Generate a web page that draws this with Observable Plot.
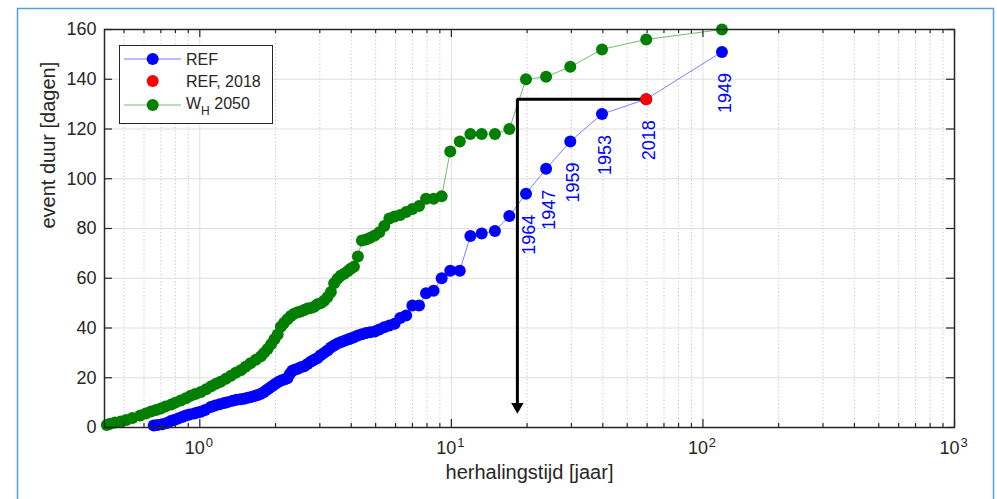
<!DOCTYPE html>
<html>
<head>
<meta charset="utf-8">
<script src="https://cdn.jsdelivr.net/npm/d3@7"></script>
<script src="https://cdn.jsdelivr.net/npm/@observablehq/plot@0.6"></script>
<style>
  html, body { margin: 0; padding: 0; background: #fff; overflow: hidden; }
  svg { display: block; }
</style>
</head>
<body>
<div id="chart"></div>
<script>
// Event duration (days) against return period (years), ranked from the longest event down.
// REF: reference climate; the first six events carry their year.
const refReturn = [119, 59.5, 39.7, 29.7, 23.8, 19.8, 17.0, 14.9, 13.2, 11.9, 10.8, 9.9, 9.15, 8.5, 7.93,
  7.44, 7.0, 6.61, 6.26, 5.95, 5.67, 5.41, 5.17, 4.96, 4.76, 4.58, 4.41, 4.25, 4.10, 3.98, 3.90, 3.78,
  3.65, 3.53, 3.42, 3.32, 3.22, 3.12, 3.02, 2.93, 2.85, 2.77, 2.68, 2.60, 2.52, 2.45, 2.38, 2.33, 2.28,
  2.23, 2.18, 2.12, 2.06, 2.0, 1.95, 1.90, 1.85, 1.80, 1.75, 1.70, 1.65, 1.60, 1.55, 1.50, 1.45, 1.40,
  1.35, 1.29, 1.25, 1.20, 1.15, 1.105, 1.05, 1.01, 0.98, 0.95, 0.91, 0.88, 0.85, 0.82, 0.79, 0.767,
  0.74, 0.71, 0.68, 0.656];
const refDuration = [151, 132, 126, 115, 104, 94, 85, 79, 78, 77, 63, 63, 60, 55, 54,
  49, 49, 45, 44, 41.7, 41, 40.3, 39.4, 38.6, 38.3, 38, 37.5, 37, 36.3, 35.8, 35.5, 35,
  34.4, 33.8, 33, 32.2, 31, 30, 29, 27.8, 27.2, 26.5, 25.5, 24.6, 24.2, 23.6, 23.2, 22.8, 21.5,
  19.8, 19.4, 19, 18.4, 17.6, 16.8, 16, 15.2, 14.3, 13.6, 13.1, 12.7, 12.3, 12, 11.6, 11.4, 11.2,
  10.8, 10.2, 9.8, 9.3, 8.8, 8.2, 7.0, 6.3, 6.0, 5.6, 5.2, 4.8, 4.2, 3.6, 3.0, 2.6,
  1.8, 1.3, 1.0, 0.8];
const refYears = ["1949", "2018", "1953", "1959", "1947", "1964"];
const highlightYear = "2018";

// W_H 2050 scenario
const whReturn = [119, 59.5, 39.7, 29.7, 23.8, 19.8, 17.0, 14.9, 13.2, 11.9, 10.8, 9.9, 9.15, 8.5, 7.93,
  7.44, 7.0, 6.61, 6.26, 5.95, 5.67, 5.41, 5.17, 4.96, 4.76, 4.58, 4.41, 4.25, 4.10, 3.98, 3.87, 3.75,
  3.63, 3.53, 3.42, 3.32, 3.22, 3.12, 3.03, 2.93, 2.85, 2.76, 2.68, 2.60, 2.52, 2.45, 2.37, 2.30, 2.23,
  2.16, 2.10, 2.04, 1.98, 1.92, 1.86, 1.80, 1.75, 1.67, 1.59, 1.52, 1.455, 1.39, 1.33, 1.27, 1.21,
  1.16, 1.11, 1.06, 1.01, 0.96, 0.92, 0.88, 0.84, 0.80, 0.77, 0.73, 0.70, 0.67, 0.64, 0.61, 0.58,
  0.54, 0.51, 0.485, 0.46, 0.44, 0.427];
const whDuration = [160, 156, 152, 145, 141, 140, 120, 118, 118, 118, 115, 111, 93, 92, 92,
  89, 87.8, 86.6, 85.4, 84.8, 84, 81, 78.5, 77.2, 76.3, 75.6, 75.2, 68.7, 64.6, 63.8, 62.8, 61.8,
  61, 59.8, 58, 54.5, 52.5, 51, 50, 49.5, 48.5, 48, 47.8, 47.2, 46.6, 46.3, 45.7, 44.8, 43.5,
  42, 40.5, 37.4, 35.5, 33.5, 31.6, 30, 28.6, 27.2, 25.8, 24.4, 23, 22, 20.8, 19.6, 18.4,
  17.6, 16.6, 15.4, 14.3, 13.5, 12.8, 11.8, 10.9, 10, 9.2, 8.4, 7.6, 7, 6.4, 5.6, 4.8,
  3.8, 3, 2.4, 2, 1.5, 1];

// Return period at which the 2050 scenario reaches the 2018 duration, and the arrow's foot
const arrowReturn = 18.3;
const arrowFoot = 8.4;

// Axis ticks
const yTicks = [0, 20, 40, 60, 80, 100, 120, 140, 160];
const decades = [1, 10, 100, 1000];
const decadeExponents = ["0", "1", "2", "3"];
const minorTicks = [0.5, 0.6, 0.7, 0.8, 0.9, 2, 3, 4, 5, 6, 7, 8, 9, 20, 30, 40, 50, 60, 70, 80, 90,
  200, 300, 400, 500, 600, 700, 800, 900];
const xDomain = [0.418, 1000];
const yDomain = [0, 160];

const xLabel = "herhalingstijd [jaar]";
const yLabel = "event duur [dagen]";
const legendLabels = ["REF", "REF, 2018", "W", "H", " 2050"];

// Tables for the marks
const refData = refReturn.map((t, i) => ({t, d: refDuration[i], year: refYears[i]}));
const whData = whReturn.map((t, i) => ({t, d: whDuration[i]}));
const labelled = refData.filter(r => r.year);
const highlight = refData.filter(r => r.year === highlightYear);

const W = 997, H = 499;
const mL = 104, mR = 43, mT = 29, mB = 72;
const innerW = W - mL - mR, innerH = H - mT - mB;
const font = "'Liberation Sans', Arial, Helvetica, sans-serif";
const ink = "#262626";
const blue = "#0000ff", green = "#007f00", red = "#ff0000";
const dotR = 6;

const plot = Plot.plot({
  width: W,
  height: H,
  marginLeft: mL,
  marginRight: mR,
  marginTop: mT,
  marginBottom: mB,
  style: {fontFamily: font, fontSize: "18px", color: ink, background: "transparent", overflow: "visible"},
  x: {type: "log", domain: xDomain, axis: null},
  y: {domain: yDomain, ticks: yTicks, tickSize: 0, tickPadding: 8, label: null},
  marks: [
    // grid
    Plot.ruleX(minorTicks, {x: d => d, stroke: "#c4c4c4", strokeDasharray: "1.2,2.3", strokeWidth: 1}),
    Plot.ruleX(decades, {x: d => d, stroke: "#dedede", strokeWidth: 1}),
    Plot.ruleY(yTicks, {y: d => d, stroke: "#dedede", strokeWidth: 1}),
    // series
    Plot.line(whData, {x: "t", y: "d", stroke: green, strokeOpacity: 0.55, strokeWidth: 1}),
    Plot.dot(whData, {x: "t", y: "d", r: dotR, fill: green}),
    Plot.line(refData, {x: "t", y: "d", stroke: blue, strokeOpacity: 0.5, strokeWidth: 1}),
    Plot.dot(refData, {x: "t", y: "d", r: dotR, fill: blue}),
    // 2018 duration carried across to the 2050 return period
    Plot.ruleY(highlight, {y: "d", x1: () => arrowReturn, x2: "t", stroke: "#000", strokeWidth: 3}),
    Plot.ruleX(highlight, {x: () => arrowReturn, y1: "d", y2: () => arrowFoot, stroke: "#000", strokeWidth: 3}),
    Plot.dot(highlight, {x: () => arrowReturn, y: () => arrowFoot, symbol: "triangle", r: 4.6, fill: "#000", rotate: 180}),
    Plot.dot(highlight, {x: "t", y: "d", r: dotR, fill: red}),
    // year labels
    Plot.text(labelled, {x: "t", y: "d", text: "year", rotate: -90, textAnchor: "end", dy: 21, dx: 3, fill: blue, fontSize: 18}),
    // axes box and inward ticks
    Plot.frame({stroke: ink, strokeWidth: 1.5}),
    Plot.tickX(decades, {x: d => d, insetTop: innerH - 8, stroke: ink, strokeWidth: 1.2}),
    Plot.tickX(decades, {x: d => d, insetBottom: innerH - 8, stroke: ink, strokeWidth: 1.2}),
    Plot.tickX(minorTicks, {x: d => d, insetTop: innerH - 4, stroke: ink, strokeWidth: 1.2}),
    Plot.tickX(minorTicks, {x: d => d, insetBottom: innerH - 4, stroke: ink, strokeWidth: 1.2}),
    Plot.tickY(yTicks, {y: d => d, insetRight: innerW - 8, stroke: ink, strokeWidth: 1.2}),
    Plot.tickY(yTicks, {y: d => d, insetLeft: innerW - 8, stroke: ink, strokeWidth: 1.2}),
    // x tick labels as powers of ten
    Plot.text(decades, {x: d => d, text: () => "10", frameAnchor: "bottom", dy: 26.5, dx: -5, fontSize: 18, fill: ink}),
    Plot.text(decades, {x: d => d, text: (d, i) => decadeExponents[i], frameAnchor: "bottom", dy: 19.5, dx: 9.5, fontSize: 13, fill: ink}),
    // axis labels
    Plot.text([xLabel], {frameAnchor: "bottom", dy: 51, fontSize: 20, fill: ink}),
    Plot.text([yLabel], {frameAnchor: "left", rotate: -90, dx: -56, fontSize: 20, fill: ink})
  ]
});

document.getElementById("chart").appendChild(plot);

// Panel border and legend
const svg = d3.select(plot);
svg.insert("rect", ":first-child")
  .attr("x", 17.5).attr("y", 8.5).attr("width", 976).attr("height", 520)
  .attr("fill", "none").attr("stroke", "#4fa3da").attr("stroke-width", 1.5);

const lg = svg.append("g")
  .attr("font-family", font).attr("font-size", 16).attr("fill", ink).attr("text-anchor", "start");
lg.append("rect").attr("x", 119.5).attr("y", 45.5).attr("width", 153).attr("height", 78)
  .attr("fill", "#fff").attr("stroke", ink).attr("stroke-width", 1);
const rows = [
  {y: 59, color: blue, line: true},
  {y: 81, color: red, line: false},
  {y: 105, color: green, line: true}
];
rows.forEach(r => {
  if (r.line) {
    lg.append("line").attr("x1", 124).attr("x2", 181).attr("y1", r.y).attr("y2", r.y)
      .attr("stroke", r.color).attr("stroke-opacity", 0.55).attr("stroke-width", 1);
  }
  lg.append("circle").attr("cx", 152.7).attr("cy", r.y).attr("r", dotR).attr("fill", r.color);
});
lg.append("text").attr("x", 186).attr("y", 59).attr("dy", "0.35em").text(legendLabels[0]);
lg.append("text").attr("x", 186).attr("y", 81).attr("dy", "0.35em").text(legendLabels[1]);
const wh = lg.append("text").attr("x", 186).attr("y", 103).attr("dy", "0.35em");
wh.append("tspan").text(legendLabels[2]);
wh.append("tspan").attr("font-size", 12).attr("dy", 6).text(legendLabels[3]);
wh.append("tspan").attr("dy", -6).text(legendLabels[4]);
</script>
</body>
</html>
